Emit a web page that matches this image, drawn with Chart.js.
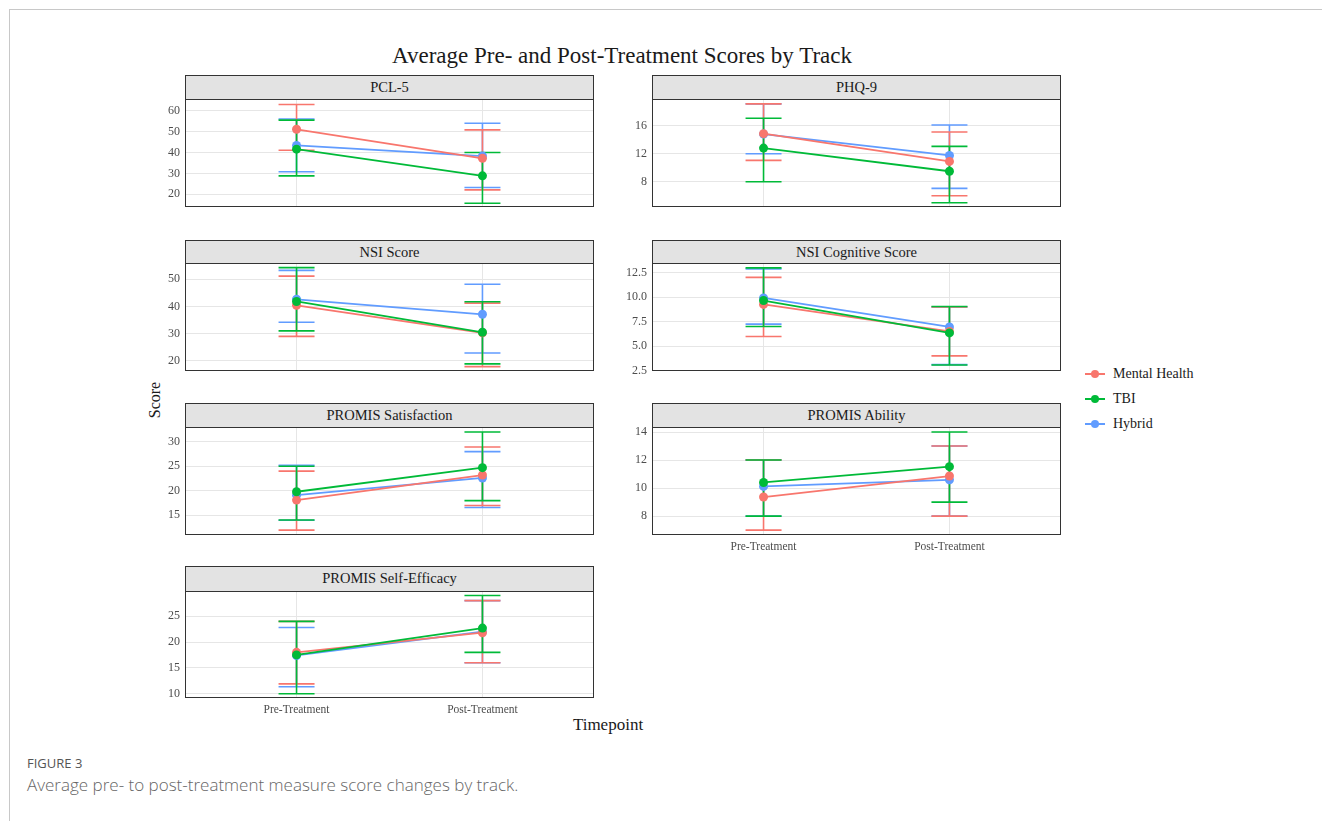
<!DOCTYPE html>
<html>
<head>
<meta charset="utf-8">
<script src="https://cdn.jsdelivr.net/npm/chart.js@4.4.1/dist/chart.umd.min.js"></script>
<style>
  html, body { margin: 0; padding: 0; background: #fff; }
  body { width: 1322px; height: 821px; position: relative; overflow: hidden; }
  .frame { position: absolute; left: 9px; top: 9px; width: 1320px; height: 820px;
           border-top: 1px solid #c8c8c8; border-left: 1px solid #c8c8c8; }
  .serif { font-family: 'Liberation Serif', 'Times New Roman', serif; color: #1a1a1a; }
  .title { position: absolute; left: 0; width: 1244px; top: 43px; text-align: center; font-size: 23px; }
  .strip { position: absolute; box-sizing: border-box; height: 25px; background: #e3e3e3;
           border: 1px solid #333; text-align: center; font-size: 14.5px; line-height: 23px; }
  canvas { position: absolute; }
  .ylab { position: absolute; left: 155px; top: 400px; font-size: 16px;
          transform: translate(-50%, -50%) rotate(-90deg); white-space: nowrap; }
  .xlab { position: absolute; left: 608px; top: 725px; font-size: 17px;
          transform: translate(-50%, -50%); white-space: nowrap; }
  .legend { position: absolute; left: 1085px; top: 364px; font-size: 14px; }
  .legend .item { height: 25px; position: relative; }
  .legend .ln { position: absolute; left: 0; top: 9px; width: 20px; height: 2px; }
  .legend .dot { position: absolute; left: 6px; top: 6px; width: 8px; height: 8px; border-radius: 50%; }
  .legend .tx { position: absolute; left: 28px; top: 0; line-height: 20px; white-space: nowrap; }
  .cap1 { position: absolute; left: 27px; top: 754px; font-family: 'Open Sans', sans-serif;
          font-size: 13px; color: #555; }
  .cap2 { position: absolute; left: 27px; top: 773px; font-family: 'Open Sans', sans-serif;
          font-size: 17px; color: #666; font-weight: 300; }
</style>
</head>
<body>
<div class="frame"></div>
<div class="title serif">Average Pre- and Post-Treatment Scores by Track</div>
<div class="ylab serif">Score</div>
<div class="xlab serif">Timepoint</div>
<div class="legend serif" id="legend"></div>
<div class="cap1">FIGURE 3</div>
<div class="cap2">Average pre- to post-treatment measure score changes by track.</div>

<script>
// ---- data ----
const timeLabels = ['Pre-Treatment', 'Post-Treatment'];
const trackNames = ['Mental Health', 'TBI', 'Hybrid'];
const trackColors = ['#F8766D', '#00BA38', '#619CFF'];

// rows: Mental Health, TBI, Hybrid ; cols: pre, post
const pclMean = [[51.1, 37.2], [41.6, 28.8], [43.4, 38.3]];
const pclLow  = [[41.1, 22.1], [28.8, 15.7], [30.8, 23.2]];
const pclHigh = [[63.0, 50.8], [55.5, 40.0], [56.0, 54.0]];
const pclTicks = [20, 30, 40, 50, 60];

const phqMean = [[14.86, 10.9], [12.8, 9.5], [14.8, 11.76]];
const phqLow  = [[11.05, 6.0], [8.0, 5.0], [12.0, 7.05]];
const phqHigh = [[19.1, 15.1], [17.05, 13.05], [19.1, 16.1]];
const phqTicks = [8, 12, 16];

const nsiMean = [[40.4, 30.3], [41.8, 30.5], [42.6, 37.1]];
const nsiLow  = [[29.0, 17.9], [31.0, 18.9], [34.2, 22.9]];
const nsiHigh = [[51.1, 41.2], [54.2, 41.7], [53.2, 48.1]];
const nsiTicks = [20, 30, 40, 50];

const cogMean = [[9.26, 6.5], [9.66, 6.35], [9.93, 6.96]];
const cogLow  = [[5.98, 4.0], [7.0, 3.07], [7.25, 3.1]];
const cogHigh = [[12.03, 9.0], [13.0, 9.05], [12.9, 9.0]];
const cogTicks = [2.5, 5.0, 7.5, 10.0, 12.5];

const satMean = [[18.1, 23.2], [19.8, 24.7], [19.1, 22.6]];
const satLow  = [[12.0, 17.0], [14.05, 18.0], [14.0, 16.6]];
const satHigh = [[24.0, 28.9], [25.0, 31.96], [25.2, 27.97]];
const satTicks = [15, 20, 25, 30];

const ablMean = [[9.36, 10.86], [10.4, 11.53], [10.12, 10.59]];
const ablLow  = [[7.0, 8.0], [8.0, 9.0], [8.0, 8.0]];
const ablHigh = [[12.0, 13.0], [12.0, 14.0], [12.0, 13.0]];
const ablTicks = [8, 10, 12, 14];

const effMean = [[18.0, 21.8], [17.5, 22.7], [17.4, 22.0]];
const effLow  = [[11.9, 16.0], [10.0, 18.0], [11.35, 16.0]];
const effHigh = [[24.0, 28.0], [24.0, 29.0], [22.8, 28.0]];
const effTicks = [10, 15, 20, 25];

// ---- layout ----
const colLeft = [185, 652];
const colWidth = 409;
const rowTop = [75, 240, 403, 566];     // strip top
const plotTop = [99, 263, 427, 591];
const plotBottom = [207, 371, 535, 698];

const panels = [
  { title: 'PCL-5', mean: pclMean, lo: pclLow, hi: pclHigh, ticks: pclTicks, min: 13.9, max: 65.6, dec: 0, col: 0, row: 0, showX: false },
  { title: 'PHQ-9', mean: phqMean, lo: phqLow, hi: phqHigh, ticks: phqTicks, min: 4.4, max: 19.8, dec: 0, col: 1, row: 0, showX: false },
  { title: 'NSI Score', mean: nsiMean, lo: nsiLow, hi: nsiHigh, ticks: nsiTicks, min: 16.3, max: 55.9, dec: 0, col: 0, row: 1, showX: false },
  { title: 'NSI Cognitive Score', mean: cogMean, lo: cogLow, hi: cogHigh, ticks: cogTicks, min: 2.45, max: 13.5, dec: 1, col: 1, row: 1, showX: false },
  { title: 'PROMIS Satisfaction', mean: satMean, lo: satLow, hi: satHigh, ticks: satTicks, min: 11.0, max: 32.97, dec: 0, col: 0, row: 2, showX: false },
  { title: 'PROMIS Ability', mean: ablMean, lo: ablLow, hi: ablHigh, ticks: ablTicks, min: 6.65, max: 14.36, dec: 0, col: 1, row: 2, showX: true },
  { title: 'PROMIS Self-Efficacy', mean: effMean, lo: effLow, hi: effHigh, ticks: effTicks, min: 9.17, max: 29.87, dec: 0, col: 0, row: 3, showX: true }
];

Chart.defaults.font.family = "'Liberation Serif', 'Times New Roman', serif";
Chart.defaults.color = '#4d4d4d';

const drawOrder = [1, 0, 2]; // chart.js "order": TBI on top, Hybrid underneath

// error bars through the chart's scales
const errorBars = {
  id: 'errorBars',
  beforeDatasetsDraw(chart) {
    const { ctx, scales: { x, y } } = chart;
    const sets = chart.data.datasets.slice().sort((a, b) => b.order - a.order);
    ctx.save();
    sets.forEach(ds => {
      ctx.strokeStyle = ds.borderColor;
      ctx.lineWidth = 1.6;
      ds.data.forEach((p, i) => {
        const px = x.getPixelForValue(p.x);
        const yl = y.getPixelForValue(ds.errLo[i]);
        const yh = y.getPixelForValue(ds.errHi[i]);
        ctx.beginPath();
        ctx.moveTo(px, yl); ctx.lineTo(px, yh);
        ctx.moveTo(px - 18, yl); ctx.lineTo(px + 18, yl);
        ctx.moveTo(px - 18, yh); ctx.lineTo(px + 18, yh);
        ctx.stroke();
      });
    });
    ctx.restore();
  }
};

const panelBorder = {
  id: 'panelBorder',
  afterDraw(chart) {
    const { ctx, chartArea: a } = chart;
    ctx.save();
    ctx.strokeStyle = '#333';
    ctx.lineWidth = 1;
    ctx.strokeRect(Math.round(a.left) + 0.5, Math.round(a.top) + 0.5,
                   Math.round(a.right - a.left) - 1, Math.round(a.bottom - a.top) - 1);
    ctx.restore();
  }
};

const Y_W = 45, PAD = 10, X_H = 22;

panels.forEach(p => {
  const left = colLeft[p.col];
  const strip = document.createElement('div');
  strip.className = 'strip serif';
  strip.style.left = left + 'px';
  strip.style.top = rowTop[p.row] + 'px';
  strip.style.width = colWidth + 'px';
  strip.style.height = (plotTop[p.row] - rowTop[p.row] + 1) + 'px';
  strip.textContent = p.title;

  const cv = document.createElement('canvas');
  const h = plotBottom[p.row] - plotTop[p.row] + PAD + (p.showX ? X_H : PAD);
  cv.width = colWidth + Y_W;
  cv.height = h;
  cv.style.left = (left - Y_W) + 'px';
  cv.style.top = (plotTop[p.row] - PAD) + 'px';
  document.body.appendChild(cv);
  document.body.appendChild(strip);

  const datasets = trackNames.map((name, k) => ({
    label: name,
    data: timeLabels.map((t, i) => ({ x: i + 1, y: p.mean[k][i] })),
    errLo: p.lo[k],
    errHi: p.hi[k],
    borderColor: trackColors[k],
    backgroundColor: trackColors[k],
    pointBackgroundColor: trackColors[k],
    pointBorderWidth: 0,
    pointRadius: 4.5,
    borderWidth: 1.8,
    order: drawOrder[k]
  }));

  new Chart(cv.getContext('2d'), {
    type: 'line',
    data: { datasets },
    options: {
      responsive: false,
      devicePixelRatio: 1,
      animation: false,
      layout: { autoPadding: false, padding: { top: PAD, bottom: p.showX ? 0 : PAD, left: 0, right: 0 } },
      plugins: { legend: { display: false }, tooltip: { enabled: false } },
      scales: {
        x: {
          type: 'linear', min: 0.4, max: 2.6,
          afterBuildTicks: s => { s.ticks = timeLabels.map((t, i) => ({ value: i + 1 })); },
          afterFit: s => {
            s.height = p.showX ? X_H : 0;
            s.paddingLeft = 0; s.paddingRight = 0; s.paddingTop = 0; s.paddingBottom = 0;
          },
          grid: { color: '#e6e6e6', lineWidth: 1, drawTicks: false },
          border: { display: false },
          ticks: { display: p.showX, padding: 5, font: { size: 11.5 }, color: '#4d4d4d',
                   callback: v => timeLabels[Math.round(v) - 1] }
        },
        y: {
          min: p.min, max: p.max,
          afterBuildTicks: s => { s.ticks = p.ticks.map(v => ({ value: v })); },
          afterFit: s => {
            s.width = Y_W;
            s.paddingLeft = 0; s.paddingRight = 0; s.paddingTop = 0; s.paddingBottom = 0;
          },
          grid: { color: '#e6e6e6', lineWidth: 1, drawTicks: false },
          border: { display: false },
          ticks: { padding: 5, font: { size: 12 }, color: '#4d4d4d',
                   callback: v => Number(v).toFixed(p.dec) }
        }
      }
    },
    plugins: [errorBars, panelBorder]
  });
});

// legend
const lg = document.getElementById('legend');
trackNames.forEach((name, k) => {
  const it = document.createElement('div');
  it.className = 'item';
  it.innerHTML = '<span class="ln" style="background:' + trackColors[k] + '"></span>' +
                 '<span class="dot" style="background:' + trackColors[k] + '"></span>' +
                 '<span class="tx">' + name + '</span>';
  lg.appendChild(it);
});
</script>
</body>
</html>
